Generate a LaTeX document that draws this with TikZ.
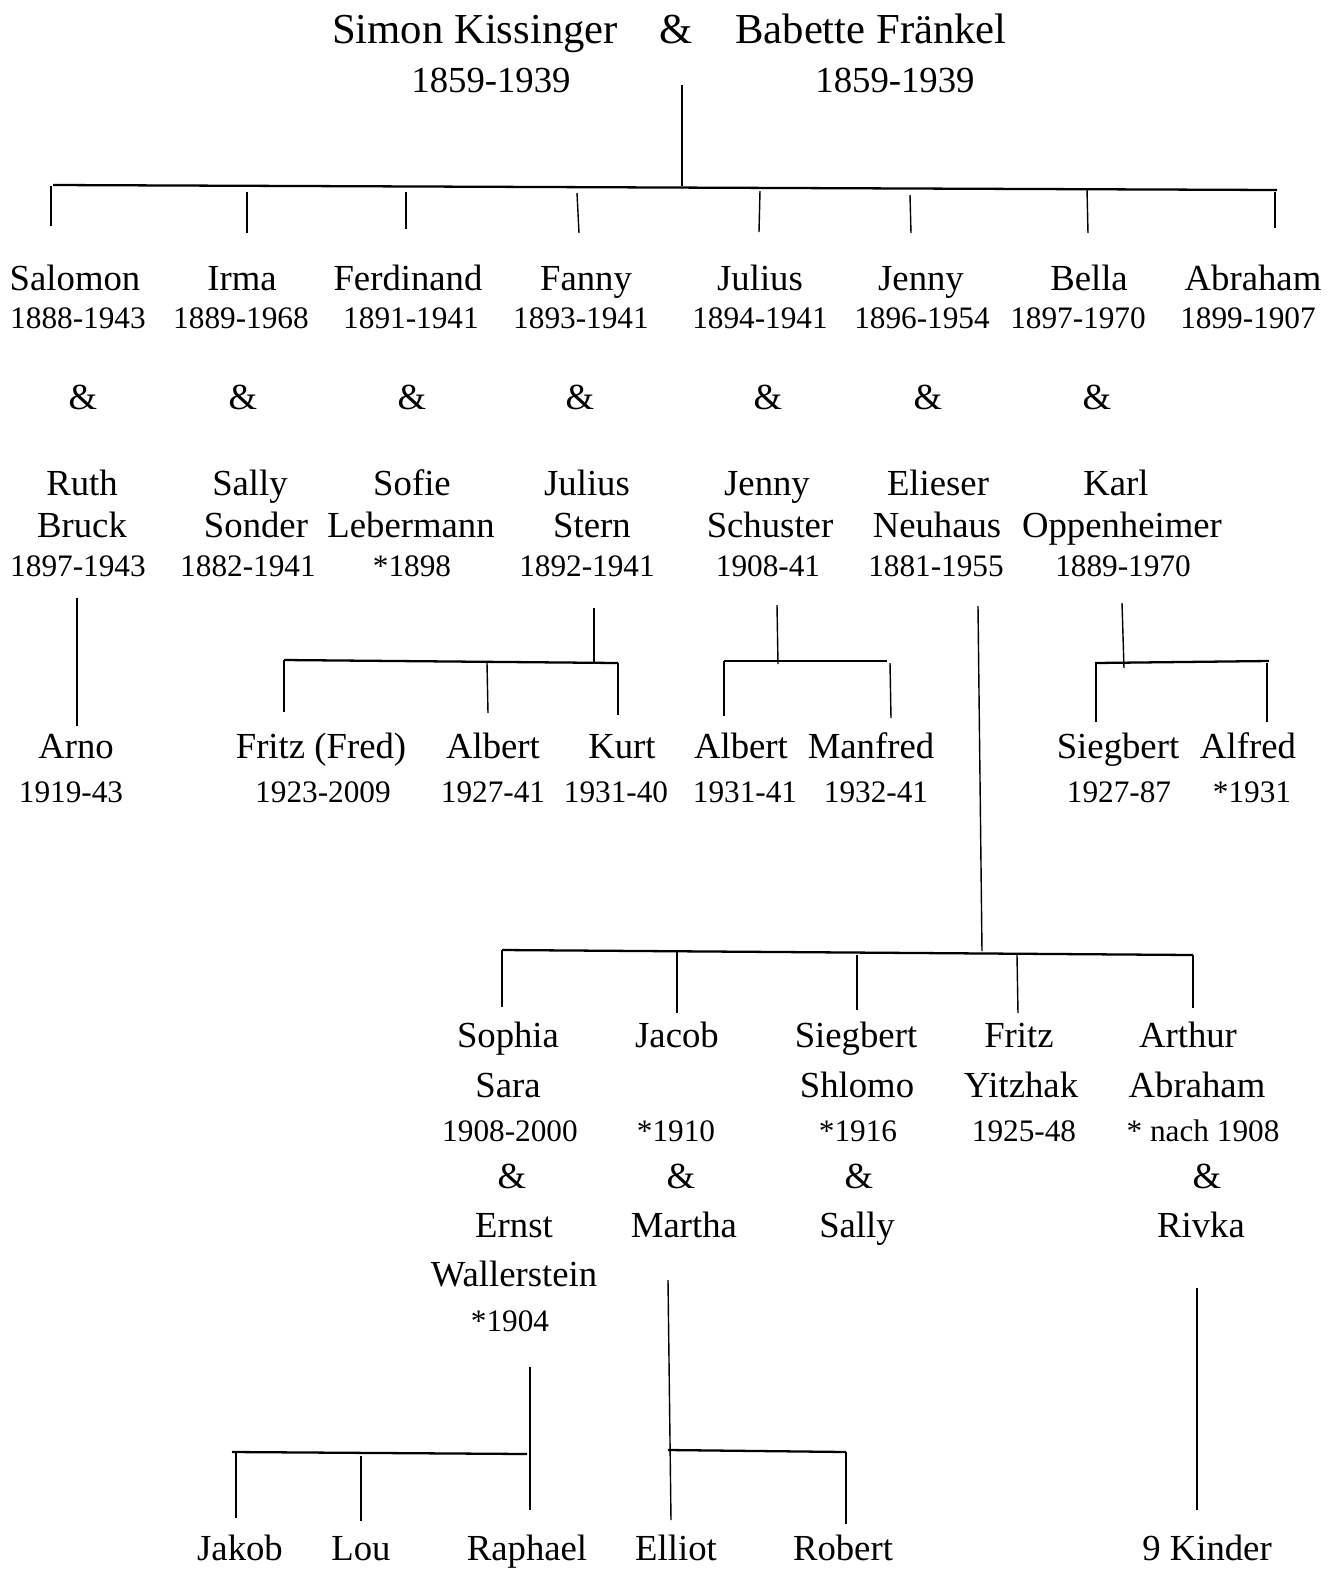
\documentclass[tikz,border=0pt]{standalone}
\usepackage{fontspec}
\setmainfont{Liberation Serif}

\tikzset{
    ttl/.style={font=\fontsize{24.3}{29}\selectfont, anchor=base, inner sep=0pt},
    nm/.style={font=\fontsize{20.9}{25}\selectfont, anchor=base, inner sep=0pt},
    yr/.style={font=\fontsize{17.8}{21}\selectfont, anchor=base, inner sep=0pt},
    lnk/.style={line width=0.8pt},
    bar/.style={line width=1.3pt},
}

\begin{document}
\begin{tikzpicture}[x=0.02cm, y=-0.02cm]
    \useasboundingbox (0,0) rectangle (1330,1570);

    \def\conn#1#2#3#4#5#6{%
        \coordinate (#1a) at (#3,#4);
        \coordinate (#1b) at (#5,#6);
        \draw[#2] (#1a) -- (#1b);
    }

    % parents
    \node[ttl] (simon) at (475,43) {Simon Kissinger};
    \node[ttl] (amp0) at (676,43) {\&};
    \node[ttl] (babette) at (871,43) {Babette Fränkel};
    \node[nm] (simonyr) at (491,92) {1859-1939};
    \node[nm] (babetteyr) at (895,92) {1859-1939};

    % children
    \node[nm] (salomon) at (75,290) {Salomon};
    \node[nm] (irma) at (242,290) {Irma};
    \node[nm] (ferdinand) at (408,290) {Ferdinand};
    \node[nm] (fanny) at (586,290) {Fanny};
    \node[nm] (julius) at (760,290) {Julius};
    \node[nm] (jenny) at (921,290) {Jenny};
    \node[nm] (bella) at (1089,290) {Bella};
    \node[nm] (abraham) at (1253,290) {Abraham};

    \node[yr] (salomonyr) at (78,328) {1888-1943};
    \node[yr] (irmayr) at (241,328) {1889-1968};
    \node[yr] (ferdinandyr) at (411,328) {1891-1941};
    \node[yr] (fannyyr) at (581,328) {1893-1941};
    \node[yr] (juliusyr) at (760,328) {1894-1941};
    \node[yr] (jennyyr) at (922,328) {1896-1954};
    \node[yr] (bellayr) at (1078,328) {1897-1970};
    \node[yr] (abrahamyr) at (1248,328) {1899-1907};

    \foreach \n/\x in {1/83, 2/243, 3/412, 4/580, 5/768, 6/928, 7/1097}
        \node[nm] (amp\n) at (\x,409) {\&};

    % spouses
    \node[nm] (ruth) at (82,495) {Ruth};
    \node[nm] (sally) at (250,495) {Sally};
    \node[nm] (sofie) at (412,495) {Sofie};
    \node[nm] (juliuss) at (587,495) {Julius};
    \node[nm] (jennys) at (767,495) {Jenny};
    \node[nm] (elieser) at (938,495) {Elieser};
    \node[nm] (karl) at (1116,495) {Karl};

    \node[nm] (bruck) at (82,537) {Bruck};
    \node[nm] (sonder) at (256,537) {Sonder};
    \node[nm] (lebermann) at (411,537) {Lebermann};
    \node[nm] (stern) at (592,537) {Stern};
    \node[nm] (schuster) at (770,537) {Schuster};
    \node[nm] (neuhaus) at (937,537) {Neuhaus};
    \node[nm] (oppenheimer) at (1122,537) {Oppenheimer};

    \node[yr] (bruckyr) at (78,576) {1897-1943};
    \node[yr] (sonderyr) at (248,576) {1882-1941};
    \node[yr] (lebermannyr) at (412,576) {*1898};
    \node[yr] (sternyr) at (587,576) {1892-1941};
    \node[yr] (schusteryr) at (768,576) {1908-41};
    \node[yr] (neuhausyr) at (936,576) {1881-1955};
    \node[yr] (oppenheimeryr) at (1123,576) {1889-1970};

    % grandchildren
    \node[nm] (arno) at (76,758) {Arno};
    \node[nm] (fritz) at (321,758) {Fritz (Fred)};
    \node[nm] (alberts) at (493,758) {Albert};
    \node[nm] (kurt) at (622,758) {Kurt};
    \node[nm] (albertsch) at (741,758) {Albert};
    \node[nm] (manfred) at (871,758) {Manfred};
    \node[nm] (siegberto) at (1118,758) {Siegbert};
    \node[nm] (alfred) at (1248,758) {Alfred};

    \node[yr] (arnoyr) at (71,802) {1919-43};
    \node[yr] (fritzyr) at (323,802) {1923-2009};
    \node[yr] (albertsyr) at (493,802) {1927-41};
    \node[yr] (kurtyr) at (616,802) {1931-40};
    \node[yr] (albertschyr) at (745,802) {1931-41};
    \node[yr] (manfredyr) at (876,802) {1932-41};
    \node[yr] (siegbertoyr) at (1119,802) {1927-87};
    \node[yr] (alfredyr) at (1252,802) {*1931};

    % Neuhaus children
    \node[nm] (sophia) at (508,1047) {Sophia};
    \node[nm] (sara) at (508,1097) {Sara};
    \node[yr] (sarayr) at (510,1141) {1908-2000};
    \node[nm] (amp8) at (512,1188) {\&};
    \node[nm] (ernst) at (514,1237) {Ernst};
    \node[nm] (wallerstein) at (514,1286) {Wallerstein};
    \node[yr] (wallersteinyr) at (510,1331) {*1904};

    \node[nm] (jacob) at (677,1047) {Jacob};
    \node[yr] (jacobyr) at (676,1141) {*1910};
    \node[nm] (amp9) at (681,1188) {\&};
    \node[nm] (martha) at (684,1237) {Martha};

    \node[nm] (siegbertn) at (856,1047) {Siegbert};
    \node[nm] (shlomo) at (857,1097) {Shlomo};
    \node[yr] (shlomoyr) at (858,1141) {*1916};
    \node[nm] (amp10) at (859,1188) {\&};
    \node[nm] (sallyn) at (857,1237) {Sally};

    \node[nm] (fritzn) at (1019,1047) {Fritz};
    \node[nm] (yitzhak) at (1021,1097) {Yitzhak};
    \node[yr] (yitzhakyr) at (1024,1141) {1925-48};

    \node[nm] (arthur) at (1188,1047) {Arthur};
    \node[nm] (abrahamn) at (1197,1097) {Abraham};
    \node[yr] (abrahamnyr) at (1203,1141) {* nach 1908};
    \node[nm] (amp11) at (1207,1188) {\&};
    \node[nm] (rivka) at (1201,1237) {Rivka};

    % great-grandchildren
    \node[nm] (jakob) at (240,1560) {Jakob};
    \node[nm] (lou) at (361,1560) {Lou};
    \node[nm] (raphael) at (527,1560) {Raphael};
    \node[nm] (elliot) at (676,1560) {Elliot};
    \node[nm] (robert) at (843,1560) {Robert};
    \node[nm] (kinder) at (1207,1560) {9 Kinder};

    % lines
    \conn{p0}{lnk}{682}{85}{682}{186}
    \conn{b0}{bar}{53}{185}{1277}{190}
    \conn{d1}{lnk}{51}{186}{51}{226}
    \conn{d2}{lnk}{247}{192}{247}{233}
    \conn{d3}{lnk}{406}{192}{406}{229}
    \conn{d4}{lnk}{577}{193}{579}{233}
    \conn{d5}{lnk}{760}{191}{759}{232}
    \conn{d6}{lnk}{910}{195}{911}{233}
    \conn{d7}{lnk}{1087}{189}{1088}{233}
    \conn{d8}{lnk}{1275}{192}{1275}{228}

    \conn{p1}{lnk}{77}{598}{77}{726}

    \conn{p4}{lnk}{594}{608}{594}{664}
    \conn{b4}{bar}{284}{660}{618}{663}
    \conn{d41}{lnk}{284}{660}{284}{712}
    \conn{d42}{lnk}{487}{663}{488}{713}
    \conn{d43}{lnk}{618}{663}{618}{715}

    \conn{p5}{lnk}{777}{605}{778}{664}
    \conn{b5}{bar}{724}{661}{887}{661}
    \conn{d51}{lnk}{724}{661}{724}{716}
    \conn{d52}{lnk}{890}{663}{891}{718}

    \conn{p7}{lnk}{1122}{603}{1124}{668}
    \conn{b7}{bar}{1095}{663}{1269}{661}
    \conn{d71}{lnk}{1096}{663}{1096}{722}
    \conn{d72}{lnk}{1267}{663}{1267}{722}

    \conn{p6}{lnk}{978}{606}{982}{951}
    \conn{b6}{bar}{502}{950}{1193}{955}
    \conn{d61}{lnk}{502}{950}{502}{1007}
    \conn{d62}{lnk}{677}{950}{677}{1013}
    \conn{d63}{lnk}{857}{955}{857}{1010}
    \conn{d64}{lnk}{1017}{955}{1018}{1013}
    \conn{d65}{lnk}{1193}{955}{1193}{1008}

    \conn{p8}{lnk}{530}{1367}{530}{1510}
    \conn{b8}{bar}{232}{1452}{527}{1454}
    \conn{d81}{lnk}{236}{1452}{236}{1518}
    \conn{d82}{lnk}{361}{1456}{361}{1521}

    \conn{p9}{lnk}{668}{1280}{671}{1520}
    \conn{b9}{bar}{668}{1450}{846}{1452}
    \conn{d91}{lnk}{846}{1452}{846}{1524}

    \conn{p11}{lnk}{1197}{1288}{1197}{1510}
\end{tikzpicture}
\end{document}
